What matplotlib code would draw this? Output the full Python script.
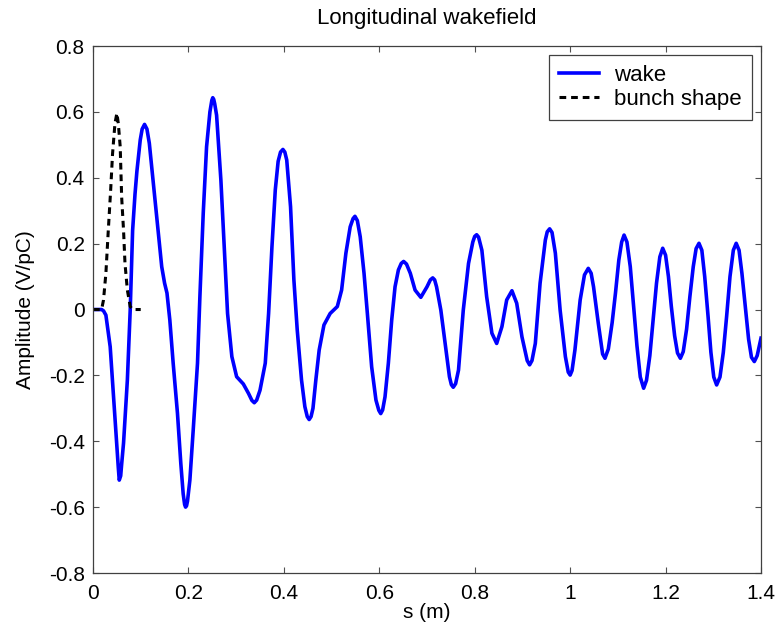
import matplotlib.pyplot as plt
from matplotlib.ticker import FormatStrFormatter

plt.rcParams['font.family'] = ['Liberation Sans', 'DejaVu Sans']
plt.rcParams['axes.unicode_minus'] = False

# wake potential, s in metres, amplitude in V/pC
s_wake = [0.000, 0.018, 0.022, 0.027, 0.036, 0.043, 0.050, 0.053, 0.055, 0.058,
          0.060, 0.064, 0.072, 0.078, 0.083, 0.088, 0.092, 0.099, 0.103, 0.108,
          0.113, 0.118, 0.126, 0.137, 0.144, 0.150, 0.155, 0.161, 0.168, 0.177,
          0.184, 0.189, 0.192, 0.194, 0.196, 0.198, 0.203, 0.210, 0.219, 0.224,
          0.231, 0.238, 0.245, 0.249, 0.251, 0.253, 0.255, 0.259, 0.268, 0.275,
          0.282, 0.291, 0.301, 0.308, 0.315, 0.326, 0.333, 0.338, 0.343, 0.350,
          0.361, 0.368, 0.375, 0.382, 0.388, 0.393, 0.398, 0.402, 0.406, 0.414,
          0.421, 0.428, 0.437, 0.444, 0.449, 0.453, 0.457, 0.461, 0.467, 0.474,
          0.484, 0.497, 0.512, 0.521, 0.530, 0.539, 0.545, 0.549, 0.554, 0.560,
          0.568, 0.575, 0.584, 0.593, 0.599, 0.603, 0.607, 0.612, 0.619, 0.626,
          0.633, 0.640, 0.646, 0.651, 0.657, 0.665, 0.675, 0.687, 0.700, 0.707,
          0.712, 0.716, 0.720, 0.729, 0.738, 0.747, 0.751, 0.755, 0.760, 0.766,
          0.776, 0.787, 0.796, 0.800, 0.804, 0.808, 0.815, 0.825, 0.836, 0.846,
          0.857, 0.867, 0.878, 0.888, 0.899, 0.910, 0.915, 0.920, 0.927, 0.937,
          0.948, 0.952, 0.957, 0.962, 0.969, 0.979, 0.990, 0.996, 1.000, 1.004,
          1.010, 1.021, 1.030, 1.038, 1.044, 1.049, 1.059, 1.068, 1.073, 1.080,
          1.088, 1.095, 1.102, 1.108, 1.113, 1.119, 1.126, 1.133, 1.140, 1.147,
          1.154, 1.160, 1.167, 1.174, 1.181, 1.188, 1.194, 1.200, 1.206, 1.212,
          1.219, 1.225, 1.231, 1.237, 1.244, 1.251, 1.258, 1.264, 1.270, 1.276,
          1.282, 1.289, 1.295, 1.301, 1.307, 1.314, 1.321, 1.328, 1.335, 1.342,
          1.348, 1.354, 1.360, 1.367, 1.374, 1.380, 1.386, 1.392, 1.400]
wake = [0.000, 0.000, -0.004, -0.017, -0.113, -0.265, -0.417, -0.480, -0.518, -0.505,
        -0.470, -0.405, -0.214, 0.000, 0.240, 0.350, 0.420, 0.515, 0.548, 0.562,
        0.548, 0.505, 0.390, 0.230, 0.130, 0.080, 0.050, -0.032, -0.163, -0.315,
        -0.467, -0.560, -0.592, -0.600, -0.596, -0.582, -0.518, -0.366, -0.163, 0.039,
        0.292, 0.494, 0.600, 0.635, 0.643, 0.638, 0.625, 0.590, 0.393, 0.190,
        -0.012, -0.143, -0.204, -0.215, -0.226, -0.255, -0.276, -0.283, -0.275, -0.245,
        -0.163, -0.012, 0.190, 0.363, 0.450, 0.478, 0.486, 0.478, 0.454, 0.312,
        0.090, -0.062, -0.214, -0.295, -0.325, -0.334, -0.325, -0.300, -0.214, -0.123,
        -0.047, -0.012, 0.009, 0.059, 0.171, 0.251, 0.276, 0.283, 0.270, 0.221,
        0.110, -0.012, -0.174, -0.275, -0.306, -0.316, -0.305, -0.265, -0.163, -0.032,
        0.069, 0.120, 0.140, 0.146, 0.138, 0.110, 0.059, 0.037, 0.069, 0.090,
        0.096, 0.090, 0.069, -0.002, -0.103, -0.204, -0.228, -0.236, -0.225, -0.184,
        -0.002, 0.140, 0.205, 0.222, 0.227, 0.220, 0.180, 0.039, -0.072, -0.103,
        -0.052, 0.029, 0.057, 0.019, -0.083, -0.155, -0.168, -0.155, -0.103, 0.080,
        0.211, 0.236, 0.245, 0.234, 0.171, -0.002, -0.143, -0.190, -0.199, -0.185,
        -0.123, 0.029, 0.105, 0.125, 0.110, 0.069, -0.042, -0.135, -0.148, -0.120,
        -0.040, 0.050, 0.150, 0.205, 0.226, 0.205, 0.130, 0.010, -0.110, -0.205,
        -0.239, -0.215, -0.140, -0.030, 0.080, 0.160, 0.186, 0.165, 0.100, 0.010,
        -0.080, -0.132, -0.148, -0.128, -0.060, 0.040, 0.130, 0.185, 0.201, 0.180,
        0.100, -0.020, -0.130, -0.205, -0.229, -0.205, -0.130, -0.020, 0.100, 0.180,
        0.201, 0.180, 0.110, 0.010, -0.090, -0.145, -0.158, -0.140, -0.087]

# bunch profile (arbitrary scale)
s_bunch = [0.000, 0.018, 0.022, 0.027, 0.032, 0.037, 0.041, 0.046, 0.050, 0.053,
           0.057, 0.060, 0.064, 0.067, 0.072, 0.078, 0.083, 0.100]
bunch = [0.000, 0.000, 0.029, 0.110, 0.240, 0.363, 0.474, 0.565, 0.596, 0.565,
         0.494, 0.342, 0.240, 0.140, 0.059, 0.009, 0.000, 0.000]

fig = plt.figure(figsize=(7.79, 6.27), dpi=100)
ax = fig.add_axes([0.1194, 0.0861, 0.8575, 0.8405])

ax.plot(s_wake, wake, color='#0000ff', lw=2.6, solid_joinstyle='round', label='wake')
ax.plot(s_bunch, bunch, color='black', lw=2.2, ls=(0, (2.2, 1.6)), label='bunch shape')

ax.set_xlim(0, 1.4)
ax.set_ylim(-0.8, 0.8)
ax.set_xticks([0, 0.2, 0.4, 0.6, 0.8, 1.0, 1.2, 1.4])
ax.set_yticks([-0.8, -0.6, -0.4, -0.2, 0, 0.2, 0.4, 0.6, 0.8])
ax.xaxis.set_major_formatter(FormatStrFormatter('%g'))
ax.yaxis.set_major_formatter(FormatStrFormatter('%g'))
ax.tick_params(direction='in', length=4.5, width=0.8, color='#505050',
               labelsize=15, top=True, right=True, pad=6)
ax.tick_params(axis='x', pad=8)
for sp in ax.spines.values():
    sp.set_color('#404040')
    sp.set_linewidth(0.9)

ax.set_title('Longitudinal wakefield', fontsize=16, pad=16)
ax.set_xlabel('s (m)', fontsize=15, labelpad=0)
ax.set_ylabel('Amplitude (V/pC)', fontsize=15, labelpad=10)

leg = ax.legend(loc='upper right', fontsize=16, frameon=True, fancybox=False,
                framealpha=1, edgecolor='#404040', handlelength=1.8,
                handletextpad=0.7, borderaxespad=0.4, borderpad=0.45,
                labelspacing=0.12)
leg.get_frame().set_linewidth(0.9)

fig.savefig('out.png', dpi=100)
